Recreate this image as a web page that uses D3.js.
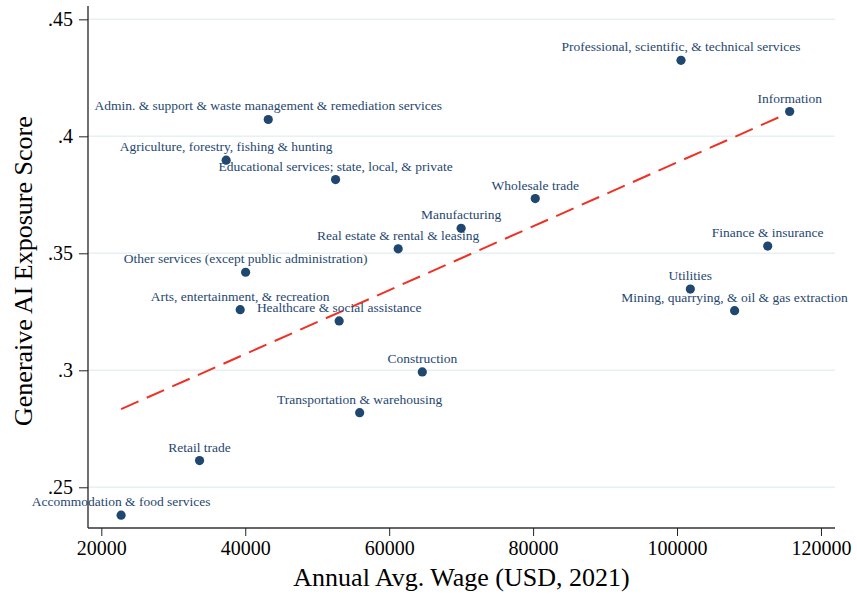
<!DOCTYPE html>
<html>
<head>
<meta charset="utf-8">
<script src="https://cdn.jsdelivr.net/npm/d3@7"></script>
<style>
  body { margin: 0; background: #fff; }
  text { font-family: "Liberation Serif", "Times New Roman", serif; }
</style>
</head>
<body>
<div id="chart"></div>
<script>
// industries, wage (x) and exposure score (y)
var industries = [
    "Admin. & support & waste management & remediation services",
    "Agriculture, forestry, fishing & hunting",
    "Educational services; state, local, & private",
    "Manufacturing",
    "Real estate & rental & leasing",
    "Other services (except public administration)",
    "Professional, scientific, & technical services",
    "Information",
    "Wholesale trade",
    "Finance & insurance",
    "Utilities",
    "Mining, quarrying, & oil & gas extraction",
    "Arts, entertainment, & recreation",
    "Healthcare & social assistance",
    "Construction",
    "Transportation & warehousing",
    "Retail trade",
    "Accommodation & food services"
];
var wages = [43200, 37350, 52550, 70000, 61250, 40050, 100550, 115650, 80300, 112600,
             101850, 108000, 39300, 53050, 64600, 55900, 33650, 22750];
var scores = [.4072, .3898, .3815, .3607, .3519, .3419, .4325, .4106, .3734, .3531,
              .3347, .3255, .3259, .3211, .2993, .2819, .2614, .2381];
// fitted line ends
var fitWage = [22750, 115650];
var fitScore = [.2834, .4102];
var xTicks = [20000, 40000, 60000, 80000, 100000, 120000];
var yTicks = [.25, .3, .35, .4, .45];

var margin = {top: 6, right: 22, bottom: 68, left: 88};
var width = 857 - margin.left - margin.right;
var height = 596 - margin.top - margin.bottom;

var svg = d3.select("#chart").append("svg")
    .attr("width", 857).attr("height", 596)
    .append("g").attr("transform", "translate(" + margin.left + "," + margin.top + ")");

var x = d3.scaleLinear().domain([18150, 121950]).range([0, width]);
var y = d3.scaleLinear().domain([.2326, .4557]).range([height, 0]);

// grid lines
svg.selectAll(".grid").data(yTicks).enter().append("line")
    .attr("x1", 0).attr("x2", width)
    .attr("y1", d => y(d)).attr("y2", d => y(d))
    .attr("stroke", "#e9f0f2").attr("stroke-width", 1.5);

// y axis
var yAxis = svg.append("g")
    .call(d3.axisLeft(y).tickValues(yTicks).tickSize(9).tickPadding(6)
        .tickFormat(d => d3.format(".2~f")(d).replace(/^0/, "")));
yAxis.select(".domain").attr("stroke", "#222").attr("stroke-width", 1.3).attr("d", "M0," + height + "V0");
yAxis.selectAll(".tick line").attr("stroke", "#222");
yAxis.selectAll("text").attr("font-size", 20).attr("fill", "#000").attr("font-family", "Liberation Serif");

// x axis
var xAxis = svg.append("g").attr("transform", "translate(0," + height + ")")
    .call(d3.axisBottom(x).tickValues(xTicks).tickSize(8).tickPadding(5).tickFormat(d3.format("d")));
xAxis.select(".domain").attr("stroke", "#333").attr("stroke-width", 1.6).attr("d", "M0,0H" + width);
xAxis.selectAll(".tick line").attr("stroke", "#222");
xAxis.selectAll("text").attr("font-size", 20).attr("fill", "#000").attr("font-family", "Liberation Serif");

// axis titles
svg.append("text").attr("text-anchor", "middle")
    .attr("x", width / 2).attr("y", height + 58)
    .attr("font-size", 26).text("Annual Avg. Wage (USD, 2021)");
svg.append("text").attr("text-anchor", "middle")
    .attr("transform", "rotate(-90)")
    .attr("x", -y(.3424)).attr("y", -margin.left + 32)
    .attr("font-size", 26).text("Generaive AI Exposure Score");

// fitted line
svg.append("line")
    .attr("x1", x(fitWage[0])).attr("y1", y(fitScore[0]))
    .attr("x2", x(fitWage[1])).attr("y2", y(fitScore[1]))
    .attr("stroke", "#ee3124").attr("stroke-width", 2)
    .attr("stroke-dasharray", "19,9");

// points
var pts = industries.map((d, i) => ({name: d, wage: wages[i], score: scores[i]}));
svg.selectAll(".dot").data(pts).enter().append("circle")
    .attr("cx", d => x(d.wage)).attr("cy", d => y(d.score)).attr("r", 4.6)
    .attr("fill", "#1f4770");

// labels
svg.selectAll(".lab").data(pts).enter().append("text")
    .attr("x", d => x(d.wage)).attr("y", d => y(d.score) - 9)
    .attr("text-anchor", "middle").attr("font-size", 13.5)
    .attr("fill", "#1f4770").text(d => d.name);
</script>
</body>
</html>
